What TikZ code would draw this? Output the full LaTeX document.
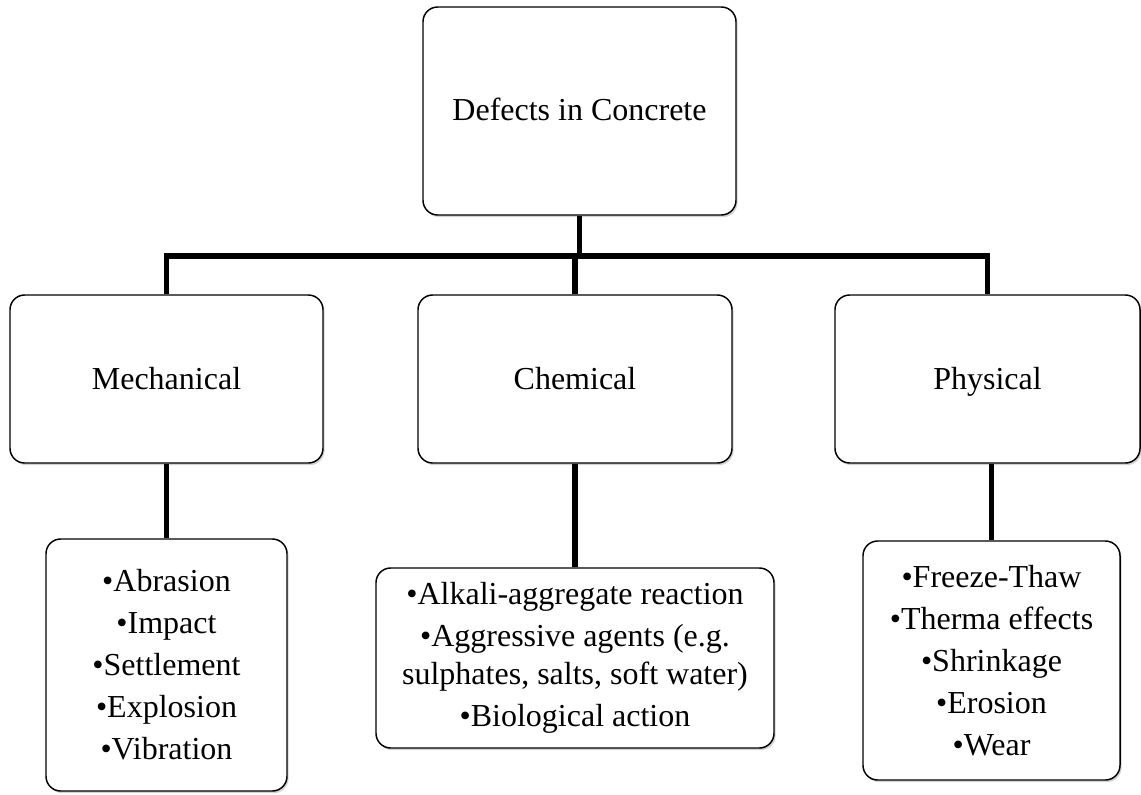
\documentclass[tikz,border=0pt]{standalone}
\usepackage{fontspec}
\setmainfont{Liberation Serif}
\usetikzlibrary{positioning,shadows}

\tikzset{
	box/.style={draw, line width=1.1pt, rounded corners=11pt, fill=white,
		align=center, inner sep=0pt,
		drop shadow={shadow xshift=1.2pt, shadow yshift=-1.6pt, opacity=0.35},
		font=\fontsize{24}{28.5}\selectfont},
	headbox/.style={box, text height=15pt, text depth=0pt},
	wire/.style={line width=4.2pt},
}

\begin{document}
\begin{tikzpicture}[x=0.75pt, y=-0.75pt]
	\useasboundingbox (0, 0) rectangle (1141, 795);

	% Boxes:
	\node[headbox, minimum width=234.75pt, minimum height=156pt] (defects) at (579.5, 111) {Defects in Concrete};

	\node[headbox, minimum width=234.75pt, minimum height=126pt] (mech) at (166.5, 379) {Mechanical};
	\node[headbox, minimum width=235.5pt, minimum height=126pt] (chem) at (575, 379) {Chemical};
	\node[headbox, minimum width=228.75pt, minimum height=126pt] (phys) at (987.5, 379) {Physical};

	\node[box, minimum width=180.75pt, minimum height=189pt] (mechlist) at (166.5, 665)
		{\textbullet Abrasion\\[3pt] \textbullet Impact\\[3pt] \textbullet Settlement\\[3pt] \textbullet Explosion\\[3pt] \textbullet Vibration};
	\node[box, minimum width=298.5pt, minimum height=135pt] (chemlist) at (575, 658)
		{\textbullet Alkali-aggregate reaction\\[3pt] \textbullet Aggressive agents (e.g.\\ sulphates, salts, soft water)\\[3pt] \textbullet Biological action};
	\node[box, minimum width=192.75pt, minimum height=179.25pt] (physlist) at (991.5, 660.5)
		{\textbullet Freeze-Thaw\\[3pt] \textbullet Therma effects\\[3pt] \textbullet Shrinkage\\[3pt] \textbullet Erosion\\[3pt] \textbullet Wear};

	\coordinate (bus) at (579.5, 256);

	% Lines:
	\draw[wire] (defects.south) -- (bus);
	\draw[wire] (mech.north) |- (bus) -| (phys.north);
	\draw[wire] (chem.north) -- (chem.north |- bus);
	\draw[wire] (mech.south) -- (mechlist.north);
	\draw[wire] (chem.south) -- (chemlist.north);
	\draw[wire] (phys.south -| physlist.north) -- (physlist.north);

\end{tikzpicture}
\end{document}
